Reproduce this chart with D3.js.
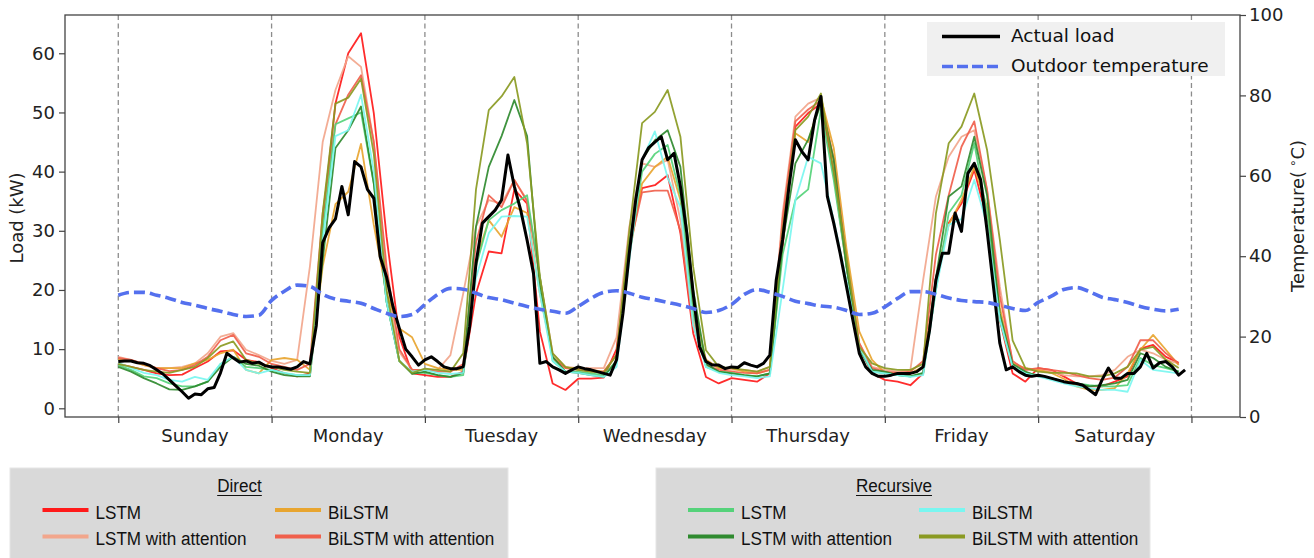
<!DOCTYPE html>
<html>
<head>
<meta charset="utf-8">
<script src="https://cdn.jsdelivr.net/npm/d3@7"></script>
<style>
  body { margin: 0; background: #fff; }
  svg { display: block; }
</style>
</head>
<body>
<svg id="chart" width="1314" height="558"></svg>
<script>
// ---------------- DATA ----------------
const days = ["Sunday", "Monday", "Tuesday", "Wednesday", "Thursday", "Friday", "Saturday"];
const loadTicks = [0, 10, 20, 30, 40, 50, 60];
const tempTicks = [0, 20, 40, 60, 80, 100];

// Actual load, hourly (kW), hour 0..167
const actualLoad = [
  7.9, 8.0, 8.0, 7.7, 7.6, 7.2, 6.5, 5.8, 4.8, 3.8, 2.8, 1.7, 2.4, 2.3, 3.3, 3.5, 6.0, 9.3, 8.5, 7.8, 8.0, 7.6, 7.8, 7.2,
  7.0, 7.0, 6.8, 6.6, 7.0, 7.9, 7.5, 14.0, 28.0, 30.5, 32.0, 37.5, 32.7, 41.7, 40.8, 37.0, 35.5, 25.6, 22.2, 17.2, 13.5, 10.0, 8.7, 7.3,
  8.2, 8.7, 7.9, 7.0, 6.7, 6.7, 7.0, 13.8, 24.5, 31.3, 32.4, 33.5, 35.2, 42.8, 37.5, 33.5, 28.4, 22.8, 7.6, 7.9, 7.0, 6.5, 5.9, 6.5,
  7.0, 6.7, 6.5, 6.2, 5.9, 5.6, 8.2, 16.0, 26.2, 35.2, 42.0, 44.0, 45.0, 45.9, 42.0, 43.1, 37.5, 29.6, 19.4, 10.4, 7.9, 7.3, 7.3, 6.7,
  7.0, 6.9, 7.7, 7.3, 7.0, 7.6, 9.0, 21.7, 28.5, 37.5, 45.4, 43.4, 42.0, 48.7, 52.7, 35.8, 31.3, 26.2, 20.6, 14.9, 9.3, 7.0, 5.9, 5.4,
  5.4, 5.6, 5.9, 5.9, 5.9, 6.2, 7.0, 13.2, 21.7, 26.2, 26.2, 33.0, 29.9, 39.7, 41.4, 38.6, 30.1, 20.6, 11.0, 6.5, 7.0, 6.2, 5.6, 5.4,
  5.6, 5.4, 5.1, 4.8, 4.5, 4.3, 4.2, 3.9, 3.1, 2.3, 4.8, 6.8, 5.1, 5.1, 5.9, 5.9, 7.0, 9.3, 6.8, 7.7, 7.9, 7.0, 5.6, 6.5
];

// Outdoor temperature (°C), every 2 hours, hour 0..166
const temperature = [
  30.3, 31.0, 31.0, 30.3, 29.5, 28.5, 27.8, 27.0, 26.3, 25.5, 25.0, 25.3,
  29.0, 31.3, 32.8, 32.5, 30.5, 29.3, 28.8, 28.3, 27.0, 25.8, 25.0, 25.5,
  28.0, 30.5, 32.0, 31.8, 30.8, 29.7, 29.2, 28.3, 27.5, 26.8, 26.3, 25.8,
  27.5, 29.5, 31.0, 31.4, 30.8, 29.8, 29.2, 28.5, 27.8, 27.0, 26.0, 26.5,
  28.0, 30.5, 31.7, 31.0, 30.0, 28.8, 28.2, 27.6, 27.3, 26.5, 25.5, 25.8,
  27.4, 29.5, 31.2, 31.2, 30.5, 29.6, 29.0, 28.7, 28.5, 27.8, 27.0, 26.5,
  28.5, 30.0, 31.7, 32.2, 31.2, 29.8, 29.2, 28.5, 27.5, 26.8, 26.4, 26.8
];

// Predictions, every 2 hours (kW), hour 0..166
const directLSTM = [
  7.5, 7.0, 6.5, 5.9, 5.6, 5.7, 6.8, 7.9, 9.6, 9.8, 8.2, 7.8,
  6.8, 5.9, 5.4, 5.9, 31.8, 51.5, 60.0, 63.4, 49.9, 29.0, 12.1, 5.9,
  5.6, 5.3, 5.3, 6.2, 19.4, 26.5, 26.2, 37.0, 34.6, 13.0, 4.2, 3.1,
  5.0, 5.0, 5.2, 10.0, 27.9, 37.2, 37.7, 39.4, 29.6, 12.7, 5.3, 4.2,
  5.1, 4.8, 4.5, 5.9, 27.3, 47.6, 49.9, 51.5, 39.7, 23.9, 10.4, 5.9,
  4.8, 4.5, 3.9, 5.9, 21.7, 31.3, 34.6, 40.3, 31.8, 14.9, 5.9, 4.5,
  6.8, 6.5, 5.4, 4.2, 3.7, 3.7, 4.5, 5.4, 10.1, 10.7, 8.7, 7.7
];
const directLSTMAtt = [
  8.7, 8.2, 7.3, 6.8, 6.8, 7.0, 7.6, 9.3, 12.1, 12.7, 9.9, 9.0,
  8.0, 7.5, 8.2, 24.0, 45.0, 53.8, 59.5, 57.7, 45.0, 22.0, 9.5, 6.5,
  6.5, 6.5, 9.0, 19.4, 30.7, 35.2, 34.6, 38.6, 35.2, 22.2, 9.3, 7.0,
  6.8, 6.8, 6.8, 12.0, 30.7, 41.4, 40.8, 42.0, 31.8, 14.9, 8.2, 6.7,
  6.5, 6.5, 6.2, 7.0, 33.0, 49.3, 51.5, 52.5, 42.0, 25.0, 11.0, 7.0,
  6.5, 6.2, 6.5, 21.7, 35.8, 42.5, 45.9, 47.0, 36.9, 20.6, 7.6, 6.5,
  6.5, 6.2, 5.6, 5.4, 5.4, 5.6, 6.5, 8.7, 9.9, 9.3, 8.2, 7.6
];
const directBiLSTM = [
  8.3, 8.0, 7.3, 6.8, 6.8, 6.8, 7.6, 8.2, 9.3, 9.9, 6.5, 5.9,
  8.2, 8.5, 8.2, 6.5, 24.0, 34.5, 36.6, 44.7, 31.0, 19.4, 13.5, 12.0,
  7.5, 6.8, 6.5, 6.5, 25.0, 31.8, 29.0, 34.0, 33.0, 19.4, 8.7, 6.8,
  6.8, 6.5, 6.2, 9.0, 26.0, 38.0, 40.8, 42.5, 35.2, 17.2, 8.2, 6.8,
  6.8, 6.2, 5.9, 6.5, 30.0, 46.5, 45.0, 52.5, 44.0, 27.0, 13.0, 8.2,
  6.0, 5.9, 5.9, 7.0, 22.0, 31.0, 35.2, 40.8, 34.0, 17.0, 7.6, 6.8,
  6.5, 6.0, 5.0, 3.7, 3.1, 3.1, 3.4, 5.9, 9.9, 12.4, 9.9, 7.3
];
const directBiLSTMAtt = [
  8.5, 8.2, 7.5, 6.8, 6.3, 6.5, 7.3, 8.7, 11.5, 12.4, 9.3, 8.7,
  7.5, 7.0, 6.5, 7.5, 33.0, 48.0, 53.0, 56.3, 45.0, 24.0, 10.0, 6.5,
  6.5, 6.2, 6.2, 7.5, 28.0, 36.0, 34.0, 38.6, 35.0, 22.0, 8.5, 6.8,
  6.5, 6.2, 6.2, 9.0, 27.0, 36.5, 36.8, 36.8, 30.0, 14.0, 7.3, 6.5,
  6.2, 6.0, 5.9, 6.5, 32.0, 48.5, 50.5, 52.0, 42.0, 25.0, 11.0, 6.8,
  6.2, 6.0, 6.2, 8.0, 26.0, 36.0, 44.2, 48.5, 37.0, 19.0, 8.0, 6.5,
  6.8, 6.5, 6.2, 5.6, 5.1, 4.8, 5.2, 7.0, 11.5, 11.5, 9.3, 7.6
];
const recursiveLSTM = [
  7.3, 6.5, 5.4, 5.1, 4.2, 3.7, 3.7, 4.5, 7.5, 8.7, 7.0, 6.8,
  6.5, 5.9, 5.6, 5.6, 30.0, 48.0, 49.0, 50.0, 38.0, 18.0, 8.0, 6.0,
  6.0, 5.6, 5.3, 5.6, 24.0, 31.8, 33.5, 34.6, 36.0, 22.2, 8.0, 6.2,
  6.2, 5.9, 5.6, 8.0, 26.0, 40.0, 43.0, 44.5, 36.0, 16.0, 7.0, 6.2,
  6.0, 5.6, 5.4, 5.9, 26.0, 35.2, 37.0, 50.5, 38.6, 24.0, 10.0, 6.2,
  5.9, 5.6, 5.4, 5.9, 20.0, 33.0, 36.0, 44.8, 33.0, 15.0, 7.0, 6.0,
  5.6, 5.1, 4.5, 4.2, 3.9, 3.7, 3.7, 3.9, 8.5, 7.3, 6.8, 6.2
];
const recursiveLSTMAtt = [
  7.0, 6.2, 5.1, 4.2, 3.2, 3.1, 3.7, 4.5, 7.0, 8.7, 7.5, 7.2,
  6.2, 5.6, 5.4, 5.4, 25.0, 44.0, 47.0, 51.0, 38.0, 18.0, 8.0, 5.8,
  6.2, 5.6, 5.3, 6.0, 30.7, 40.8, 46.0, 52.1, 46.0, 20.5, 8.7, 6.2,
  6.0, 5.6, 5.3, 8.0, 28.0, 42.0, 45.3, 47.0, 40.8, 20.0, 7.5, 6.2,
  5.9, 5.6, 5.4, 5.9, 28.0, 41.4, 45.4, 51.5, 42.0, 24.0, 10.0, 6.5,
  6.2, 5.6, 5.4, 6.0, 22.0, 35.8, 37.5, 45.9, 36.0, 16.0, 7.5, 6.2,
  5.4, 5.1, 4.5, 4.2, 3.7, 3.9, 4.2, 4.8, 9.3, 8.5, 7.0, 6.2
];
const recursiveBiLSTM = [
  7.7, 6.8, 6.0, 5.6, 4.8, 4.5, 5.3, 4.8, 7.5, 8.7, 6.5, 5.9,
  6.5, 6.0, 5.6, 5.6, 28.0, 46.0, 47.0, 53.0, 40.0, 18.0, 8.0, 6.2,
  6.5, 6.0, 5.8, 6.0, 22.0, 29.6, 32.4, 32.5, 32.4, 19.4, 8.0, 6.2,
  6.0, 5.6, 5.3, 7.0, 25.0, 42.0, 46.8, 39.0, 34.0, 14.0, 7.0, 6.0,
  5.6, 5.4, 5.1, 5.4, 20.0, 35.2, 42.5, 41.4, 31.8, 21.7, 10.4, 6.2,
  5.9, 5.6, 5.3, 5.6, 20.0, 31.0, 32.0, 38.6, 31.0, 15.0, 7.0, 5.9,
  5.4, 4.8, 4.2, 3.7, 3.4, 3.1, 3.1, 2.8, 8.2, 6.5, 6.2, 5.9
];
const recursiveBiLSTMAtt = [
  7.5, 7.0, 6.5, 6.2, 6.0, 6.5, 7.0, 8.5, 10.5, 11.3, 8.2, 7.5,
  7.0, 6.5, 6.2, 6.0, 33.0, 51.5, 52.5, 55.7, 43.0, 20.0, 8.0, 6.0,
  6.7, 6.5, 6.2, 9.3, 37.0, 50.4, 52.7, 56.0, 44.8, 22.2, 9.3, 7.0,
  6.5, 6.2, 6.0, 9.0, 30.0, 48.2, 50.1, 53.8, 45.9, 23.9, 9.8, 7.0,
  6.8, 6.5, 6.2, 7.0, 30.0, 47.0, 49.3, 53.2, 40.0, 25.6, 10.4, 7.6,
  6.8, 6.5, 6.5, 7.5, 33.0, 44.8, 47.6, 53.2, 43.7, 28.5, 11.5, 6.8,
  6.2, 6.0, 6.0, 5.9, 5.4, 5.4, 5.9, 7.0, 9.9, 10.4, 8.2, 6.8
];

const modelNames = ["LSTM", "LSTM with attention", "BiLSTM", "BiLSTM with attention"];
const directColors = ["#ff1a1a", "#f2a68c", "#e8a530", "#f0604c"];
const recursiveColors = ["#55d27a", "#2f8a2f", "#79f6f0", "#8a9a22"];

// ---------------- CHART ----------------
const svg = d3.select("#chart");
const L = 65, R = 1240, T = 15, B = 417;
const FONT = "'DejaVu Sans', Verdana, sans-serif";
const AFONT = "'Liberation Sans', Arial, sans-serif";

const x = d3.scaleLinear().domain([-8.34, 175.6]).range([L, R]);
const yLoad = d3.scaleLinear().domain([-1.47, 66.47]).range([B, T]);
const yTemp = d3.scaleLinear().domain([0, 100]).range([B, T]);

const hourly = actualLoad.map((v, i) => i);
const twoHourly = temperature.map((v, i) => i * 2);

svg.append("defs").append("clipPath").attr("id", "clip")
  .append("rect").attr("x", L).attr("y", T).attr("width", R - L).attr("height", B - T);

// day separator dashed lines
const dayBounds = d3.range(days.length + 1).map(d => d * 24);
svg.append("g").selectAll("line").data(dayBounds).join("line")
  .attr("x1", d => x(d)).attr("x2", d => x(d))
  .attr("y1", T).attr("y2", B)
  .attr("stroke", "#8c8c8c").attr("stroke-width", 1.3)
  .attr("stroke-dasharray", "5,3.5");

const plot = svg.append("g").attr("clip-path", "url(#clip)");

const lineLoad = (hours) => d3.line().x((d, i) => x(hours[i])).y(d => yLoad(d));

const modelSeries = [
  [directLSTM, directColors[0]],
  [directLSTMAtt, directColors[1]],
  [directBiLSTM, directColors[2]],
  [directBiLSTMAtt, directColors[3]],
  [recursiveLSTM, recursiveColors[0]],
  [recursiveLSTMAtt, recursiveColors[1]],
  [recursiveBiLSTM, recursiveColors[2]],
  [recursiveBiLSTMAtt, recursiveColors[3]]
];
modelSeries.forEach(([vals, col]) => {
  plot.append("path").datum(vals)
    .attr("d", lineLoad(twoHourly))
    .attr("fill", "none").attr("stroke", col)
    .attr("stroke-width", 1.8).attr("stroke-opacity", 0.92)
    .attr("stroke-linejoin", "round");
});

plot.append("path").datum(actualLoad)
  .attr("d", lineLoad(hourly))
  .attr("fill", "none").attr("stroke", "#000")
  .attr("stroke-width", 3).attr("stroke-linejoin", "round");

plot.append("path").datum(temperature)
  .attr("d", d3.line().curve(d3.curveMonotoneX).x((d, i) => x(twoHourly[i])).y(d => yTemp(d)))
  .attr("fill", "none").attr("stroke", "#5470ee")
  .attr("stroke-width", 3.6).attr("stroke-dasharray", "11,5");

// axes
function styleAxis(g) {
  g.selectAll("text").attr("font-family", FONT).attr("font-size", 18).attr("fill", "#222");
  g.selectAll("line").attr("stroke", "#444").attr("stroke-width", 1.2);
  g.select(".domain").remove();
}
svg.append("g").attr("transform", `translate(${L},0)`)
  .call(d3.axisLeft(yLoad).tickValues(loadTicks).tickSize(6).tickPadding(4))
  .call(styleAxis);
svg.append("g").attr("transform", `translate(${R},0)`)
  .call(d3.axisRight(yTemp).tickValues(tempTicks).tickSize(6).tickPadding(3))
  .call(styleAxis);
svg.append("g").attr("transform", `translate(0,${B})`)
  .call(d3.axisBottom(x).tickValues(dayBounds).tickSize(6).tickFormat(""))
  .call(styleAxis);

// frame
svg.append("rect").attr("x", L).attr("y", T).attr("width", R - L).attr("height", B - T)
  .attr("fill", "none").attr("stroke", "#444").attr("stroke-width", 1.3);

// day labels
svg.append("g").selectAll("text").data(days).join("text")
  .attr("x", (d, i) => x(i * 24 + 12)).attr("y", 442)
  .attr("text-anchor", "middle").attr("font-family", FONT).attr("font-size", 18)
  .attr("fill", "#222").text(d => d);

// axis labels
svg.append("text").attr("transform", "translate(23,218) rotate(-90)")
  .attr("text-anchor", "middle").attr("font-family", FONT).attr("font-size", 18)
  .attr("fill", "#222").text("Load (kW)");
const rt = svg.append("text").attr("transform", "translate(1304,216) rotate(-90)")
  .attr("text-anchor", "middle").attr("font-family", FONT).attr("font-size", 18)
  .attr("fill", "#222");
rt.append("tspan").text("Temperature(");
rt.append("tspan").attr("font-size", 12).attr("dy", -7).text(" \u2218");
rt.append("tspan").attr("dy", 7).text("C)");

// in-plot legend
const lg = svg.append("g");
lg.append("rect").attr("x", 927).attr("y", 22).attr("width", 298).attr("height", 54)
  .attr("fill", "#f0f0f0");
lg.append("line").attr("x1", 942).attr("x2", 1000).attr("y1", 36.5).attr("y2", 36.5)
  .attr("stroke", "#000").attr("stroke-width", 3.5);
lg.append("line").attr("x1", 942).attr("x2", 1000).attr("y1", 66.5).attr("y2", 66.5)
  .attr("stroke", "#5470ee").attr("stroke-width", 3.6).attr("stroke-dasharray", "11,4");
lg.append("text").attr("x", 1011).attr("y", 42).attr("font-family", FONT).attr("font-size", 18.5)
  .attr("fill", "#111").text("Actual load");
lg.append("text").attr("x", 1011).attr("y", 71.5).attr("font-family", FONT).attr("font-size", 18.5)
  .attr("fill", "#111").text("Outdoor temperature");

// bottom legends (text slightly condensed, as in the reference)
const SX = 0.9;
function bottomLegend(bx, bw, title, titleX, colors, lx1, lx2) {
  const g = svg.append("g");
  g.append("rect").attr("x", bx).attr("y", 468).attr("width", bw).attr("height", 100)
    .attr("fill", "#d9d9d9").attr("stroke", "#e6e6e6").attr("stroke-width", 1);
  const t = g.append("text").attr("transform", `translate(${titleX},492) scale(${SX},1)`)
    .attr("text-anchor", "middle")
    .attr("font-family", AFONT).attr("font-size", 19).attr("fill", "#111").text(title);
  const w = t.node().getComputedTextLength() * SX;
  g.append("line").attr("x1", titleX - w / 2).attr("x2", titleX + w / 2)
    .attr("y1", 495.5).attr("y2", 495.5).attr("stroke", "#111").attr("stroke-width", 1.1);
  const pos = [[lx1, 510], [lx1, 536.5], [lx2, 510], [lx2, 536.5]];
  pos.forEach(([px, py], k) => {
    g.append("line").attr("x1", px).attr("x2", px + 46).attr("y1", py).attr("y2", py)
      .attr("stroke", colors[k]).attr("stroke-width", 4);
    g.append("text").attr("transform", `translate(${px + 53},${py + 8.5}) scale(${SX},1)`)
      .attr("font-family", AFONT).attr("font-size", 19).attr("fill", "#111").text(modelNames[k]);
  });
}
bottomLegend(10, 498, "Direct", 239.5, directColors, 42.5, 275);
bottomLegend(656, 494, "Recursive", 894, recursiveColors, 688, 919);
</script>
</body>
</html>
